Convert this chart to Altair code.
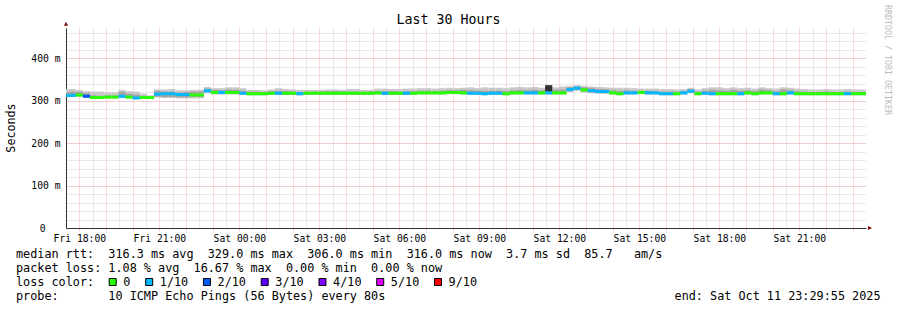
import altair as alt
import pandas as pd

FONT = "DejaVu Sans Mono"

# ---------------- time frame (hours after Fri 00:00) ----------------
range_start_h = 17 + 29 / 60 + 55 / 3600      # Fri 17:29:55
range_end_h = range_start_h + 30               # Sat 23:29:55
first_step_h = 17 + 20 / 60                    # first consolidated step Fri 17:20
step_minutes = 16

# ---------------- series (ms) ----------------
median_ms = [
    312, 312, 313, 310, 307, 307, 308, 308, 310, 308, 306, 307, 307,
    315, 316, 316, 314, 314, 313, 313,
    323, 319, 319, 319, 319, 317, 316, 316, 316,
    317, 317, 317, 317, 316, 317, 317, 317, 317, 317, 317, 317, 317, 317, 317,
    318, 317, 317, 317, 317, 317, 318, 318, 318, 318, 319, 319, 318,
    317, 317, 316, 317, 317, 316, 318, 318, 318, 318, 318, 318, 318, 318,
    326, 329, 325, 323, 321, 321, 318, 316,
    318, 318, 319, 318, 318, 316, 316, 316, 318, 322, 316, 317, 316, 316, 316, 316, 316,
    318, 316, 318, 318, 316, 316, 318, 316, 316, 316, 316, 316, 316, 316, 316, 316, 316, 316,
]
loss_level = [
    1, 1, 0, 2, 0, 0, 0, 0, 1, 0, 1, 0, 0,
    1, 1, 1, 1, 1, 0, 0,
    1, 0, 1, 0, 0, 1, 0, 0, 0,
    0, 1, 0, 0, 1, 0, 0, 0, 0, 0, 0, 0, 0, 0, 0,
    0, 1, 0, 0, 1, 0, 0, 0, 0, 0, 0, 0, 0,
    1, 1, 1, 1, 1, 0, 0, 0, 1, 1, 0, 1, 0, 0,
    1, 1, 0, 1, 1, 1, 0, 0,
    1, 1, 0, 1, 1, 1, 1, 0, 1, 1, 0, 1, 1, 0, 0, 0, 1,
    0, 0, 0, 0, 1, 0, 1, 0, 0, 0, 0, 0, 0, 0, 1, 0, 0, 0,
]
smoke_max = [
    327, 327, 325, 322, 321, 321, 319, 319, 325, 322, 321, 316, 312,
    326, 326, 327, 324, 324, 325, 325,
    332, 329, 329, 331, 331, 329, 325, 325, 324,
    326, 329, 327, 326, 325, 325, 325, 325, 326, 326, 325, 327, 327, 325, 325,
    328, 328, 327, 327, 328, 328, 329, 329, 328, 329, 330, 329, 330,
    331, 329, 331, 330, 330, 329, 331, 332, 331, 332, 330, 336, 331, 333,
    334, 336, 334, 333, 332, 331, 330, 330,
    330, 329, 328, 328, 328, 327, 327, 326, 327, 330, 326, 329, 331, 331, 329, 331, 329,
    330, 328, 331, 329, 328, 331, 330, 328, 327, 326, 326, 327, 326, 326, 327, 326, 326, 325,
]
smoke_min = [
    308, 308, 309, 306, 304, 304, 305, 305, 306, 305, 303, 304, 304,
    307, 306, 306, 305, 305, 305, 305,
    317, 314, 314, 314, 314, 313, 312, 312, 312,
    313, 313, 313, 313, 312, 313, 313, 313, 313, 313, 313, 313, 313, 313, 313,
    314, 313, 313, 313, 313, 313, 314, 314, 314, 314, 315, 315, 314,
    313, 313, 312, 313, 313, 312, 314, 314, 314, 314, 314, 314, 314, 314,
    320, 323, 319, 317, 316, 316, 314, 312,
    314, 314, 315, 314, 314, 312, 312, 312, 314, 317, 312, 313, 312, 312, 312, 312, 312,
    314, 312, 314, 314, 312, 312, 314, 312, 312, 312, 312, 312, 312, 312, 312, 312, 312, 312,
]
smoke_inner_hi = [
    320, 321, 320, 318, 312, 311, 312, 312, 320, 316, 314, 311, 310,
    323, 321, 321, 319, 320, 321, 321,
    328, 325, 324, 326, 325, 323, 321, 321, 320,
    322, 323, 322, 321, 320, 321, 321, 321, 322, 322, 321, 321, 321, 321, 321,
    322, 322, 322, 321, 322, 322, 323, 323, 322, 323, 324, 324, 325,
    324, 323, 323, 323, 323, 322, 324, 325, 324, 325, 324, 330, 325, 326,
    331, 333, 331, 329, 327, 326, 324, 323,
    324, 323, 323, 323, 322, 321, 321, 321, 322, 326, 321, 323, 325, 324, 323, 325, 323,
    324, 322, 326, 324, 322, 326, 324, 322, 321, 320, 320, 321, 320, 320, 321, 320, 320, 320,
]
smoke_inner_lo = [
    309, 309, 310, 307, 305, 305, 306, 306, 307, 306, 304, 305, 305,
    309, 308, 308, 307, 307, 308, 308,
    319, 316, 316, 316, 316, 314, 313, 313, 313,
    314, 314, 314, 314, 313, 314, 314, 314, 314, 314, 314, 314, 314, 314, 314,
    315, 314, 314, 314, 314, 314, 315, 315, 315, 315, 316, 316, 315,
    314, 314, 313, 314, 314, 313, 315, 315, 315, 315, 315, 315, 315, 315,
    322, 325, 321, 319, 318, 317, 315, 313,
    315, 315, 316, 315, 315, 313, 313, 313, 315, 319, 313, 314, 313, 313, 313, 313, 313,
    315, 313, 315, 315, 313, 313, 315, 313, 313, 313, 313, 313, 313, 313, 313, 313, 313, 313,
]
dense_steps = [68]
dense_lo = [321]
dense_hi = [336]

loss_labels = ["0", "1/10", "2/10", "3/10", "4/10", "5/10", "9/10"]
loss_colors = ["#26ff00", "#00b8ff", "#0059ff", "#5e00ff", "#7e00ff", "#dd00ff", "#ff0000"]

x_label_hours = [18, 21, 24, 27, 30, 33, 36, 39, 42, 45]
x_major_hours = list(range(18, 48))
x_minor_hours = [h + 0.5 for h in range(17, 47)]
y_top_ms = 470.6
y_major_ms = [0, 100, 200, 300, 400]
y_unit_labels = [100, 200, 300, 400]
y_zero_label = [0]
y_minor_ms = list(range(20, 470, 20))

title_text = "Last 30 Hours"
legend_lines = [
    "median rtt:  316.3 ms avg  329.0 ms max  306.0 ms min  316.0 ms now  3.7 ms sd  85.7   am/s",
    "packet loss: 1.08 % avg  16.67 % max  0.00 % min  0.00 % now",
    "loss color:",
    "probe:       10 ICMP Echo Pings (56 Bytes) every 80s",
]
end_text = "end: Sat Oct 11 23:29:55 2025"
y_title = "Seconds"
watermark = "RRDTOOL / TOBI OETIKER"

# ---------------- tables ----------------
n = len(median_ms)
steps = pd.DataFrame({
    "t0": [first_step_h + k * step_minutes / 60 for k in range(n)],
    "t1": [first_step_h + (k + 1) * step_minutes / 60 for k in range(n)],
    "med": median_ms,
    "loss": [loss_labels[i] for i in loss_level],
    "smin": smoke_min,
    "smax": smoke_max,
    "ilo": smoke_inner_lo,
    "ihi": smoke_inner_hi,
})
dense = pd.DataFrame({
    "t0": [first_step_h + k * step_minutes / 60 for k in dense_steps],
    "t1": [first_step_h + (k + 1) * step_minutes / 60 for k in dense_steps],
    "lo": dense_lo,
    "hi": dense_hi,
})

NB = "\u00a0"
OX, OY = 66, 28  # plot origin inside the 897x310 canvas
GRID_GRAY = "#d2d2d2"
GRID_RED = "#f5b0b0"


def xscale():
    return alt.Scale(domain=[range_start_h, range_end_h], nice=False, zero=False)


def yscale():
    return alt.Scale(domain=[0, y_top_ms], nice=False, zero=False)


ax_x_minor = alt.Axis(orient="bottom", values=x_minor_hours, grid=True, gridColor=GRID_GRAY,
                      gridDash=[1, 1], labels=False, ticks=False, domain=False, title=None)
ax_x_major = alt.Axis(orient="bottom", values=x_major_hours, grid=True, gridColor=GRID_RED,
                      gridDash=[1, 1], labels=False, ticks=True, tickColor=GRID_RED, tickSize=2,
                      domain=False, title=None)
ax_x_lab = alt.Axis(orient="bottom", values=x_label_hours, grid=False, ticks=False, tickSize=0,
                    domain=True, domainColor="#333333",
                    labelExpr="(datum.value < 24 ? 'Fri" + NB + "' : 'Sat" + NB + "') + "
                              "((datum.value % 24) < 10 ? '0' : '') + (datum.value % 24) + ':00'",
                    labelFont=FONT, labelFontSize=9.7, labelColor="black", labelPadding=13.5,
                    labelBaseline="alphabetic", labelFlush=False, labelOverlap=False, title=None)
ax_y_minor = alt.Axis(orient="left", values=y_minor_ms, grid=True, gridColor=GRID_GRAY,
                      gridDash=[1, 1], labels=False, ticks=False, domain=False, title=None)
ax_y_major = alt.Axis(orient="left", values=y_major_ms, grid=True, gridColor=GRID_RED,
                      gridDash=[1, 1], labels=False, ticks=False, domain=False, title=None)
ax_y_lab = alt.Axis(orient="left", values=y_unit_labels, grid=False, ticks=False, tickSize=0,
                    domain=True, domainColor="#333333",
                    labelExpr="datum.value + '" + NB + "m'",
                    labelFont=FONT, labelFontSize=9.7, labelColor="black", labelPadding=6,
                    labelBaseline="middle", labelOverlap=False, labelFlush=False, title=None)
ax_y_zero = alt.Axis(orient="left", values=y_zero_label, grid=False, ticks=False, tickSize=0,
                     domain=False, labelFont=FONT, labelFontSize=9.7, labelColor="black",
                     labelPadding=21, labelBaseline="middle", labelOverlap=False, labelFlush=False,
                     title=None)

smoke_outer = alt.Chart(steps).mark_rect(color="#c8c8c8", clip=True).encode(
    x=alt.X("t0:Q", scale=xscale(), axis=ax_x_minor), x2="t1:Q",
    y=alt.Y("smin:Q", scale=yscale(), axis=ax_y_minor), y2="smax:Q",
)
smoke_inner = alt.Chart(steps).mark_rect(color="#a4a4a4", clip=True).encode(
    x=alt.X("t0:Q", scale=xscale(), axis=ax_x_major), x2="t1:Q",
    y=alt.Y("ilo:Q", scale=yscale(), axis=ax_y_major), y2="ihi:Q",
)
dense_layer = alt.Chart(dense).mark_rect(color="#323232", clip=True).encode(
    x=alt.X("t0:Q", scale=xscale(), axis=None), x2="t1:Q",
    y=alt.Y("lo:Q", scale=yscale(), axis=ax_y_zero), y2="hi:Q",
)
median_layer = alt.Chart(steps).mark_rule(strokeWidth=3, strokeCap="butt", clip=True).encode(
    x=alt.X("t0:Q", scale=xscale(), axis=ax_x_lab), x2="t1:Q",
    y=alt.Y("med:Q", scale=yscale(), axis=ax_y_lab),
    color=alt.Color("loss:N", scale=alt.Scale(domain=loss_labels, range=loss_colors), legend=None),
)

arrow_right = alt.Chart(pd.DataFrame({"x": [range_end_h], "y": [0]})).mark_point(
    shape="M 0.5 -0.5 L 1.5 0 L 0.5 0.5 Z", size=64, filled=True, color="#7f0000", opacity=1
).encode(x=alt.X("x:Q", scale=xscale(), axis=None), y=alt.Y("y:Q", scale=yscale(), axis=None))
arrow_up = alt.Chart(pd.DataFrame({"x": [range_start_h], "y": [y_top_ms]})).mark_point(
    shape="M -0.5 -0.575 L 0 -1.575 L 0.5 -0.575 Z", size=64, filled=True, color="#7f0000", opacity=1
).encode(x=alt.X("x:Q", scale=xscale(), axis=None), y=alt.Y("y:Q", scale=yscale(), axis=None))


def text_layer(txt, x, y, size, **kw):
    return alt.Chart(pd.DataFrame({"t": [txt.replace(" ", NB)]})).mark_text(
        font=FONT, fontSize=size, **kw
    ).encode(x=alt.value(x), y=alt.value(y), text="t:N")


texts = [
    text_layer(title_text, 448.5 - OX, 24 - OY, 13.3, align="center", baseline="alphabetic", color="black"),
    text_layer(y_title, 10.5 - OX, 128 - OY, 11.7, align="center", baseline="middle", angle=270, color="black"),
    text_layer(watermark, 887 - OX, 5 - OY, 8.3, align="left", baseline="middle", angle=90, color="#bcbcbc"),
    text_layer(end_text, 880.5 - OX, 299.5 - OY, 11.8, align="right", baseline="alphabetic", color="black"),
]
for i, line in enumerate(legend_lines):
    texts.append(text_layer(line, 16 - OX, 257.5 + 14 * i - OY, 11.8, align="left",
                            baseline="alphabetic", color="black"))

# loss colour key, laid out like rrdtool's legend (box, label, gap)
char_w = 7.09
box_left = []
pos = 108.7
for lab in loss_labels:
    box_left.append(pos)
    pos += 14.6 + char_w * len(lab) + 14.8
key = pd.DataFrame({
    "label": loss_labels,
    "color": loss_colors,
    "bx": [b + 4 - OX for b in box_left],
    "lx": [b + 14.6 - OX for b in box_left],
})
key_boxes = alt.Chart(key).mark_square(size=49, filled=True, stroke="black", strokeWidth=1, opacity=1).encode(
    x=alt.X("bx:Q", scale=None, axis=None), y=alt.value(282 - OY),
    fill=alt.Fill("color:N", scale=None),
)
key_labels = alt.Chart(key).mark_text(font=FONT, fontSize=11.8, align="left", baseline="alphabetic",
                                      color="black").encode(
    x=alt.X("lx:Q", scale=None, axis=None), y=alt.value(285.5 - OY), text="label:N",
)

chart = alt.layer(
    smoke_outer, smoke_inner, dense_layer, median_layer, arrow_right, arrow_up,
    key_boxes, key_labels, *texts
).resolve_scale(x="independent", y="independent").properties(
    width=800, height=200,
    autosize=alt.AutoSizeParams(type="none"),
    padding={"left": OX, "top": OY, "right": 897 - OX - 800, "bottom": 310 - OY - 200},
    background="white",
).configure_view(strokeWidth=0)

chart.save("out.html", embed_options={"renderer": "svg", "actions": False})
